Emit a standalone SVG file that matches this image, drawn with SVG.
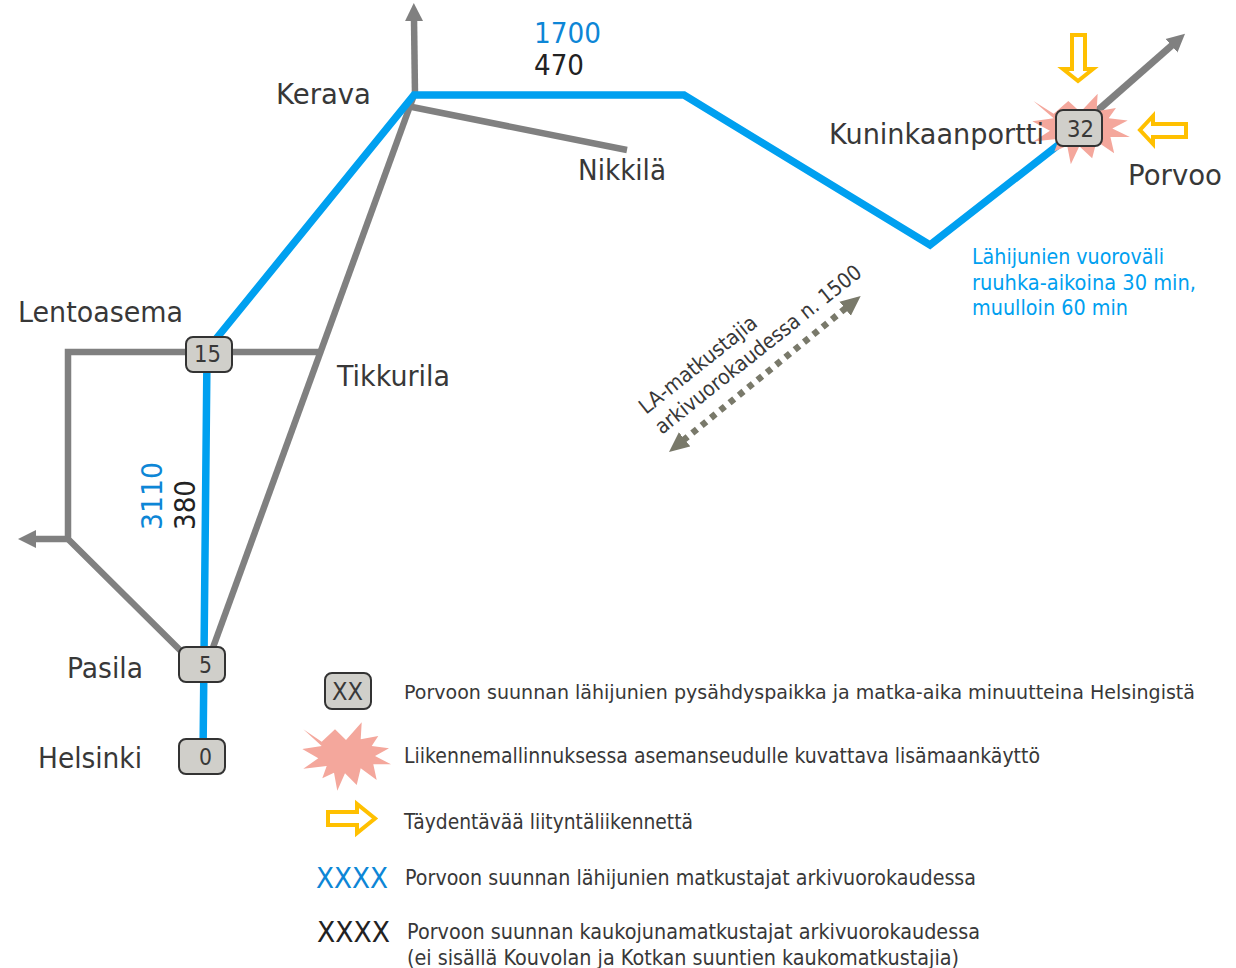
<svg xmlns="http://www.w3.org/2000/svg" width="1236" height="968" viewBox="0 0 1236 968">
<style>
text{font-family:"DejaVu Sans","Liberation Sans",sans-serif;fill:#383838;stroke:none}
.l{font-size:28px}
.n{font-size:23px}
.g{font-size:21px}
.b{fill:#0d86d6}
.k{fill:#222}
.c{fill:#00a0f0}
.gr{fill:none;stroke:#808080;stroke-width:6.5}
.bl{fill:none;stroke:#00a0f0;stroke-width:7.5}
.box{fill:#d0cfca;stroke:#333;stroke-width:2}
.st{fill:#f4a79c}
.ar{fill:#fff;stroke:#ffc000;stroke-width:4}
</style>
<defs>
<marker id="gh" markerUnits="userSpaceOnUse" markerWidth="20" markerHeight="20" refX="2" refY="10" orient="auto"><path d="M0 1L18 10L0 19z" fill="#808080"/></marker>
<marker id="dh" markerUnits="userSpaceOnUse" markerWidth="22" markerHeight="20" refX="2" refY="10" orient="auto-start-reverse"><path d="M0 1L20 10L0 19z" fill="#79796a"/></marker>
<path id="star" d="M-43.7 -26.7L-25.3 -14.3L-12 -26.7L-1 -16L14.7 -33.7L13.7 -16.7L31.3 -20L24.7 -10L42 -7.7L28 0L44 8.3L26.3 8.3L29.7 24L13.7 12.3L9.7 29L-2 17.3L-9.7 34.7L-13 16.7L-24.7 22.3L-20.3 10L-43.7 12.7L-28.7 2.3L-44.7 -7L-25.3 -10Z"/>
</defs>
<g id="connectors">
<path class="gr" d="M415 95L414 19" marker-end="url(#gh)"/>
<path class="gr" d="M412 107L627 150"/>
<path class="gr" d="M414 95L207 664"/>
<path class="gr" d="M210 352H68V539L190 660"/>
<path class="gr" d="M210 352H322"/>
<path class="gr" d="M68 539H34" marker-end="url(#gh)"/>
<path class="gr" style="stroke-width:7" d="M1080 126L1173 44.4" marker-end="url(#gh)"/>
<path class="bl" d="M203 757L207 354M207 350L414 95H684L930 245L1080 128"/>
<path fill="none" stroke="#79796a" stroke-width="6.5" stroke-dasharray="6 6" d="M683 440.6L846.7 307.4" marker-start="url(#dh)" marker-end="url(#dh)"/>
</g>
<g id="star-32"><use href="#star" class="st" transform="translate(1081.5 128.5) scale(1.1 1.03)"/></g>
<g id="arrow-top"><path class="ar" d="M1072 35H1085V69H1093L1078 81L1063 69H1072Z"/></g>
<g id="arrow-right"><path class="ar" d="M1186 124V137H1153V144L1140 130L1153 116V124Z"/></g>
<g id="node-32"><rect class="box" x="1056" y="110" width="46" height="36" rx="7"/><text class="n" x="1067" y="137" textLength="27" lengthAdjust="spacingAndGlyphs">32</text></g>
<g id="node-15"><rect class="box" x="186" y="337" width="46" height="35" rx="7"/><text class="n" x="194" y="362" textLength="27" lengthAdjust="spacingAndGlyphs">15</text></g>
<g id="node-5"><rect class="box" x="179" y="647" width="46" height="35" rx="7"/><text class="n" x="199" y="673" textLength="13" lengthAdjust="spacingAndGlyphs">5</text></g>
<g id="node-0"><rect class="box" x="179" y="739" width="46" height="35" rx="7"/><text class="n" x="199" y="765" textLength="13" lengthAdjust="spacingAndGlyphs">0</text></g>
<g id="labels">
<text class="l" x="276" y="104" textLength="95" lengthAdjust="spacingAndGlyphs">Kerava</text>
<text class="l" x="578" y="180" textLength="88" lengthAdjust="spacingAndGlyphs">Nikkilä</text>
<text class="l" x="829" y="144" textLength="215" lengthAdjust="spacingAndGlyphs">Kuninkaanportti</text>
<text class="l" x="1128" y="185" textLength="94" lengthAdjust="spacingAndGlyphs">Porvoo</text>
<text class="l" x="18" y="322" textLength="165" lengthAdjust="spacingAndGlyphs">Lentoasema</text>
<text class="l" x="337" y="386" textLength="113" lengthAdjust="spacingAndGlyphs">Tikkurila</text>
<text class="l" x="67" y="678" textLength="76" lengthAdjust="spacingAndGlyphs">Pasila</text>
<text class="l" x="38" y="768" textLength="104" lengthAdjust="spacingAndGlyphs">Helsinki</text>
<text class="l b" x="534" y="43" textLength="67" lengthAdjust="spacingAndGlyphs">1700</text>
<text class="l k" x="534" y="75" textLength="50" lengthAdjust="spacingAndGlyphs">470</text>
<text class="l b" transform="translate(162 530) rotate(-90)" textLength="68" lengthAdjust="spacingAndGlyphs">3110</text>
<text class="l k" transform="translate(195 530) rotate(-90)" textLength="50" lengthAdjust="spacingAndGlyphs">380</text>
<text class="g c" x="972" y="264" textLength="192" lengthAdjust="spacingAndGlyphs">Lähijunien vuoroväli</text>
<text class="g c" x="972" y="290" textLength="224" lengthAdjust="spacingAndGlyphs">ruuhka-aikoina 30 min,</text>
<text class="g c" x="972" y="315" textLength="156" lengthAdjust="spacingAndGlyphs">muulloin 60 min</text>
<text class="g" transform="translate(646 415) rotate(-38.5)" textLength="144" lengthAdjust="spacingAndGlyphs">LA-matkustajia</text>
<text class="g" transform="translate(662 435) rotate(-38.5)" textLength="257" lengthAdjust="spacingAndGlyphs">arkivuorokaudessa n. 1500</text>
</g>
<g id="legend">
<rect class="box" x="325" y="673" width="46" height="36" rx="7"/><text class="n" x="332" y="700" textLength="31" lengthAdjust="spacingAndGlyphs" style="font-size:24px">XX</text>
<use href="#star" class="st" transform="translate(347 756)"/>
<path class="ar" d="M328 812H357V804L375 818.5L357 833V825H328Z"/>
<text class="g" x="404" y="699" textLength="791" lengthAdjust="spacingAndGlyphs" style="font-size:20px">Porvoon suunnan lähijunien pysähdyspaikka ja matka-aika minuutteina Helsingistä</text>
<text class="g" x="404" y="763" textLength="636" lengthAdjust="spacingAndGlyphs">Liikennemallinnuksessa asemanseudulle kuvattava lisämaankäyttö</text>
<text class="g" x="404" y="829" textLength="289" lengthAdjust="spacingAndGlyphs">Täydentävää liityntäliikennettä</text>
<text class="l b" x="316" y="888" textLength="72" lengthAdjust="spacingAndGlyphs">XXXX</text>
<text class="g" x="405" y="885" textLength="571" lengthAdjust="spacingAndGlyphs">Porvoon suunnan lähijunien matkustajat arkivuorokaudessa</text>
<text class="l k" x="317" y="942" textLength="73" lengthAdjust="spacingAndGlyphs">XXXX</text>
<text class="g" x="407" y="939" textLength="573" lengthAdjust="spacingAndGlyphs">Porvoon suunnan kaukojunamatkustajat arkivuorokaudessa</text>
<text class="g" x="407" y="965" textLength="552" lengthAdjust="spacingAndGlyphs">(ei sisällä Kouvolan ja Kotkan suuntien kaukomatkustajia)</text>
</g>
</svg>
